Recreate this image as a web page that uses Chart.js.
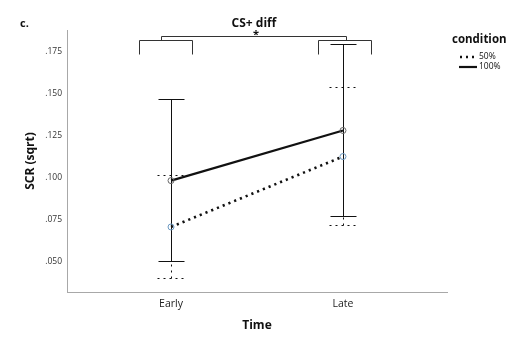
<!DOCTYPE html>
<html>
<head>
<meta charset="utf-8">
<script src="https://cdn.jsdelivr.net/npm/chart.js@4.4.1/dist/chart.umd.min.js"></script>
<style>body{margin:0;background:#fff}</style>
</head>
<body>
<canvas id="chart" width="520" height="338"></canvas>
<script>
// values
const timeLabels = ['Early', 'Late'];
const timePos = [1, 2];
const yTicks = [0.050, 0.075, 0.100, 0.125, 0.150, 0.175];
const mean50 = [0.0708, 0.1127];
const mean100 = [0.0984, 0.1282];
const low50 = [0.0405, 0.0720];
const high50 = [0.1018, 0.1538];
const low100 = [0.0508, 0.0774];
const high100 = [0.1470, 0.1796];

const FONT = "'Open Sans', sans-serif";

// significance bracket (in data units)
const bracket = {
  groups: [[0.814, 1.122], [1.855, 2.163]],
  joins: [0.942, 2.017],
  legBottom: 0.1738, level: 0.1821, top: 0.1845
};

function pts(vals) {
  return vals.map((v, i) => ({x: timePos[i], y: v}));
}

const errorBars = {
  id: 'errorBars',
  beforeDatasetsDraw(chart) {
    const {ctx, scales: {x, y}} = chart;
    ctx.save();
    ctx.strokeStyle = '#111';
    ctx.lineWidth = 1;
    const sets = [
      {lo: low50, hi: high50, dash: [2, 4], half: 14},
      {lo: low100, hi: high100, dash: [], half: 13}
    ];
    sets.forEach(s => {
      ctx.setLineDash(s.dash);
      timePos.forEach((t, i) => {
        const px = Math.round(x.getPixelForValue(t)) + 0.5;
        const y0 = Math.round(y.getPixelForValue(s.lo[i])) + 0.5;
        const y1 = Math.round(y.getPixelForValue(s.hi[i])) + 0.5;
        ctx.beginPath();
        ctx.moveTo(px, y0); ctx.lineTo(px, y1);
        ctx.moveTo(px - s.half, y0); ctx.lineTo(px + s.half, y0);
        ctx.moveTo(px - s.half, y1); ctx.lineTo(px + s.half, y1);
        ctx.stroke();
      });
    });
    ctx.restore();
  }
};

const extras = {
  id: 'extras',
  afterDraw(chart) {
    const {ctx, scales: {x, y}} = chart;
    ctx.save();
    // bracket
    ctx.strokeStyle = '#333';
    ctx.lineWidth = 1;
    const yl = Math.round(y.getPixelForValue(bracket.level)) + 0.5;
    const yb = Math.round(y.getPixelForValue(bracket.legBottom)) + 0.5;
    const yt = Math.round(y.getPixelForValue(bracket.top)) + 0.5;
    bracket.groups.forEach(g => {
      const a = Math.round(x.getPixelForValue(g[0])) + 0.5;
      const b = Math.round(x.getPixelForValue(g[1])) + 0.5;
      ctx.beginPath();
      ctx.moveTo(a, yb); ctx.lineTo(a, yl); ctx.lineTo(b, yl); ctx.lineTo(b, yb);
      ctx.stroke();
    });
    const j0 = Math.round(x.getPixelForValue(bracket.joins[0])) + 0.5;
    const j1 = Math.round(x.getPixelForValue(bracket.joins[1])) + 0.5;
    ctx.beginPath();
    ctx.moveTo(j0, yl); ctx.lineTo(j0, yt); ctx.lineTo(j1, yt); ctx.lineTo(j1, yl);
    ctx.stroke();

    // titles
    ctx.fillStyle = '#111';
    ctx.textBaseline = 'middle';
    ctx.textAlign = 'center';
    ctx.font = 'bold 12px ' + FONT;
    ctx.fillText('CS+ diff', (j0 + j1) / 2, 24);
    ctx.font = 'bold 11px ' + FONT;
    ctx.fillText('*', (j0 + j1) / 2 + 2, 35);
    ctx.textAlign = 'left';
    ctx.fillText('c.', 20, 24);

    // legend
    ctx.font = 'bold 11.5px ' + FONT;
    ctx.fillText('condition', 452, 40);
    ctx.font = '8.5px ' + FONT;
    ctx.fillText('50%', 479, 57);
    ctx.fillText('100%', 479, 67);
    ctx.strokeStyle = '#111';
    ctx.lineWidth = 2.5;
    ctx.setLineDash([2, 4]);
    ctx.beginPath(); ctx.moveTo(460, 57); ctx.lineTo(476, 57); ctx.stroke();
    ctx.setLineDash([]);
    ctx.lineWidth = 2.2;
    ctx.beginPath(); ctx.moveTo(459, 67); ctx.lineTo(477, 67); ctx.stroke();
    ctx.restore();
  }
};

new Chart(document.getElementById('chart'), {
  type: 'line',
  data: {
    datasets: [
      {
        label: '50%', data: pts(mean50),
        borderColor: '#111', borderWidth: 2.6, borderDash: [2.2, 4],
        pointRadius: 3, pointBorderWidth: 1,
        pointBorderColor: '#6b98c0', pointBackgroundColor: 'rgba(255,255,255,0)'
      },
      {
        label: '100%', data: pts(mean100),
        borderColor: '#111', borderWidth: 2.3,
        pointRadius: 3, pointBorderWidth: 1,
        pointBorderColor: '#666', pointBackgroundColor: 'rgba(255,255,255,0)'
      }
    ]
  },
  options: {
    responsive: false,
    animation: false,
    layout: {padding: {top: 30, right: 73}},
    plugins: {legend: {display: false}, tooltip: {enabled: false}},
    scales: {
      x: {
        type: 'linear', min: 0.395, max: 2.605,
        afterBuildTicks: s => { s.ticks = timePos.map(v => ({value: v})); },
        afterFit: s => { s.height = 46; },
        grid: {display: false, drawTicks: false},
        border: {display: true, color: '#a8a8a8', width: 1},
        ticks: {
          padding: 6, color: '#222', font: {family: FONT, size: 10.5},
          callback: v => timeLabels[timePos.indexOf(v)]
        },
        title: {display: true, text: 'Time', color: '#111',
          font: {family: FONT, size: 12, weight: 'bold'}, padding: {top: 0, bottom: 5}}
      },
      y: {
        min: 0.0321, max: 0.188,
        afterBuildTicks: s => { s.ticks = yTicks.map(v => ({value: v})); },
        afterFit: s => { s.width = 67; },
        grid: {display: false, drawTicks: false},
        border: {display: true, color: '#a8a8a8', width: 1},
        ticks: {
          padding: 5, color: '#333', font: {family: FONT, size: 8.5},
          callback: v => v.toFixed(3).replace(/^0/, '')
        },
        title: {display: true, text: 'SCR (sqrt)', color: '#111',
          font: {family: FONT, size: 12, weight: 'bold'}, padding: {top: 23, bottom: 0}}
      }
    }
  },
  plugins: [errorBars, extras]
});
</script>
</body>
</html>
